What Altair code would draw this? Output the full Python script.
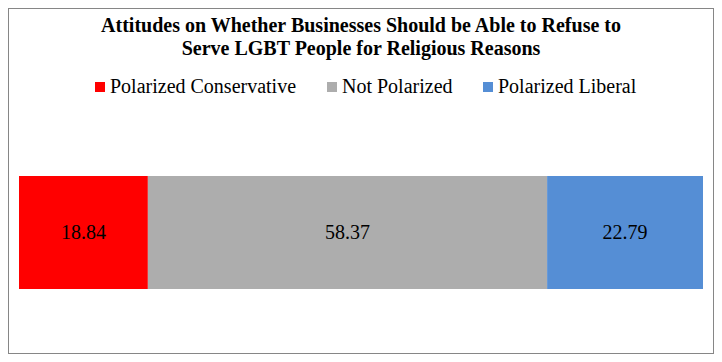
import altair as alt
import pandas as pd

categories = ["Polarized Conservative", "Not Polarized", "Polarized Liberal"]
values = [18.84, 58.37, 22.79]
colors = ["#FF0000", "#ADADAD", "#558ED5"]
title_lines = [
    "Attitudes on Whether Businesses Should be Able to Refuse to",
    "Serve LGBT People for Religious Reasons",
]

df = pd.DataFrame({
    "category": categories,
    "value": values,
    "order": list(range(len(categories))),
    "row": ["All"] * len(categories),
})

xscale = alt.Scale(domain=[0, 100], range=[11, 695])
yscale = alt.Scale(range=[168, 281], paddingInner=0, paddingOuter=0)

base = alt.Chart(df).transform_stack(
    stack="value", groupby=["row"], as_=["x0", "x1"], sort=[alt.SortField("order")]
).transform_calculate(mid="(datum.x0 + datum.x1) / 2")

bars = base.mark_bar().encode(
    x=alt.X("x0:Q", scale=xscale, axis=None),
    x2="x1:Q",
    y=alt.Y("row:N", scale=yscale, axis=None),
    color=alt.Color(
        "category:N",
        scale=alt.Scale(domain=categories, range=colors),
        legend=alt.Legend(
            orient="none", direction="horizontal", legendX=82, legendY=69,
            title=None, symbolType="square", symbolSize=100, symbolStrokeWidth=0,
            labelFont="Liberation Serif", labelFontSize=20, labelColor="black",
            labelOffset=0, columnPadding=25, padding=0, labelLimit=400,
        ),
    ),
)

labels = base.mark_text(
    font="Liberation Serif", fontSize=20, color="black", baseline="middle"
).encode(
    x=alt.X("mid:Q", scale=xscale, axis=None),
    y=alt.Y("row:N", scale=yscale, axis=None),
    text=alt.Text("value:Q", format=".2f"),
)

chart = alt.layer(bars, labels).properties(
    width=706, height=346, autosize="none", padding=0, background="white",
    title=alt.Title(
        title_lines, font="Liberation Serif", fontSize=20, fontWeight="bold",
        color="black", anchor="middle", offset=-51, lineHeight=23,
    ),
).configure_view(stroke="#868686", strokeWidth=2)

chart.save("out.html", embed_options={"renderer": "svg", "actions": False})
